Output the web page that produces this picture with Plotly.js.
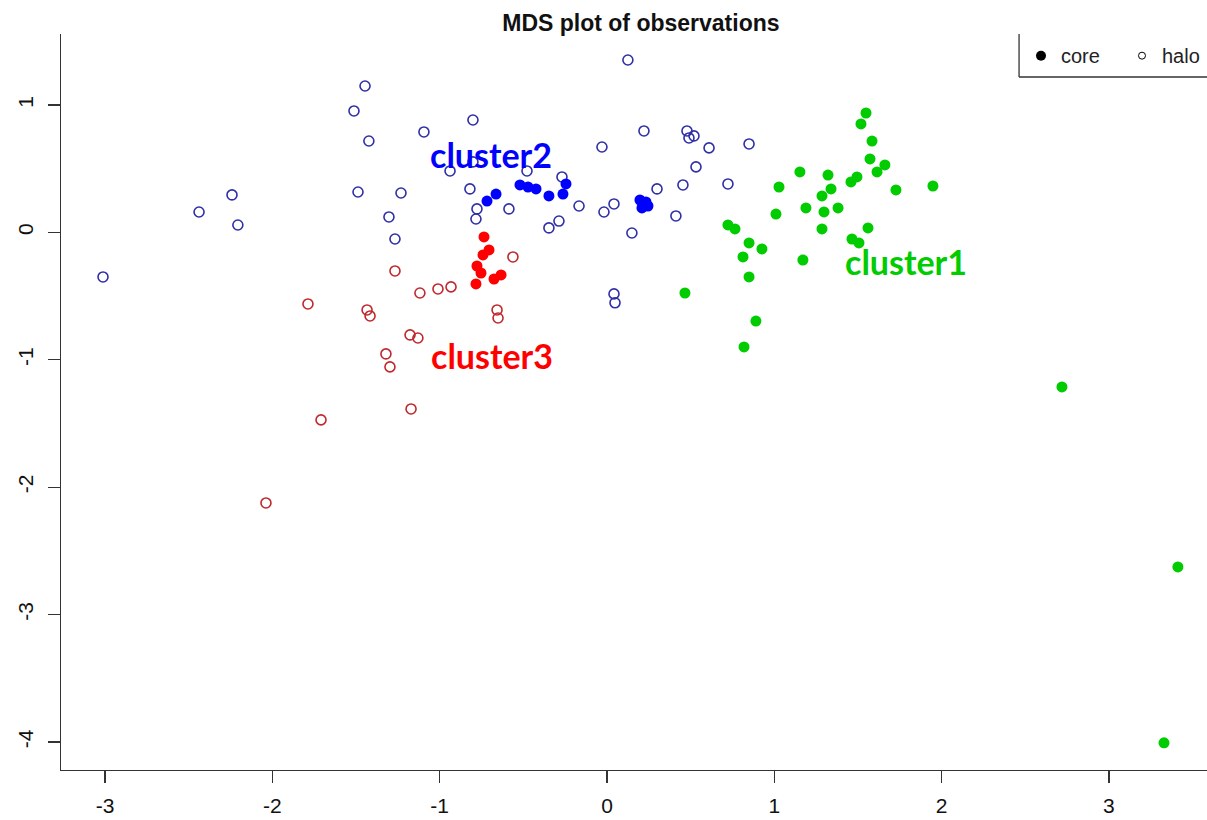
<!DOCTYPE html>
<html>
<head>
<meta charset="utf-8">
<script src="https://cdn.plot.ly/plotly-3.0.1.min.js"></script>
<style>
  html, body { margin: 0; padding: 0; background: #ffffff; }
  #chart { width: 1207px; height: 820px; }
</style>
</head>
<body>
<div id="chart"></div>
<script>
// MDS coordinates (dimension 1, dimension 2), split by cluster and by core / halo membership.
const cluster1CoreX = [1.548, 1.518, 1.584, 1.572, 1.661, 1.614, 1.153, 1.321, 1.494, 1.458, 1.028, 1.727, 1.948, 1.339, 1.285, 1.010, 1.189, 1.297, 1.381, 1.285, 1.560, 0.723, 0.765, 1.464, 1.506, 0.849, 0.926, 0.813, 1.171, 0.849, 0.466, 0.890, 0.819, 2.719, 3.412, 3.329];
const cluster1CoreY = [0.937, 0.851, 0.717, 0.576, 0.529, 0.474, 0.474, 0.450, 0.435, 0.396, 0.356, 0.333, 0.364, 0.341, 0.286, 0.144, 0.192, 0.160, 0.192, 0.027, 0.035, 0.058, 0.027, -0.052, -0.083, -0.083, -0.130, -0.193, -0.217, -0.350, -0.476, -0.696, -0.899, -1.213, -2.626, -4.007];

const cluster2CoreX = [-0.717, -0.663, -0.520, -0.472, -0.424, -0.347, -0.263, -0.245, 0.197, 0.233, 0.245, 0.209];
const cluster2CoreY = [0.246, 0.301, 0.372, 0.356, 0.341, 0.286, 0.301, 0.380, 0.254, 0.239, 0.207, 0.192];

const cluster2HaloX = [-3.012, -2.438, -2.241, -2.206, -1.446, -1.512, -1.423, -1.488, -1.231, -1.303, -1.267, -1.094, -0.801, -0.938, -0.801, -0.819, -0.777, -0.783, -0.586, -0.478, -0.269, -0.347, -0.287, -0.167, -0.030, -0.018, 0.042, 0.042, 0.048, 0.125, 0.149, 0.221, 0.299, 0.412, 0.454, 0.478, 0.520, 0.490, 0.610, 0.532, 0.723, 0.849];
const cluster2HaloY = [-0.350, 0.160, 0.294, 0.058, 1.149, 0.953, 0.717, 0.317, 0.309, 0.121, -0.052, 0.788, 0.882, 0.482, 0.553, 0.341, 0.184, 0.105, 0.184, 0.482, 0.435, 0.035, 0.089, 0.207, 0.670, 0.160, 0.223, -0.483, -0.553, 1.353, -0.005, 0.796, 0.341, 0.129, 0.372, 0.796, 0.757, 0.741, 0.663, 0.514, 0.380, 0.694];

const cluster3CoreX = [-0.735, -0.705, -0.741, -0.777, -0.753, -0.783, -0.675, -0.633];
const cluster3CoreY = [-0.036, -0.138, -0.177, -0.264, -0.319, -0.405, -0.366, -0.334];

const cluster3HaloX = [-0.562, -1.267, -1.118, -1.010, -0.932, -1.787, -1.434, -1.416, -0.657, -0.651, -1.177, -1.130, -1.321, -1.297, -1.171, -1.709, -2.038];
const cluster3HaloY = [-0.193, -0.303, -0.476, -0.444, -0.428, -0.562, -0.609, -0.656, -0.609, -0.672, -0.805, -0.829, -0.954, -1.056, -1.386, -1.472, -2.124];

// Cluster captions and where they sit in data space
const clusterNames = ['cluster1', 'cluster2', 'cluster3'];
const clusterLabelX = [1.787, -0.693, -0.690];
const clusterLabelY = [-0.228, 0.611, -0.966];

// Axis ticks (plain hyphen minus signs)
const xTickVals = [-3, -2, -1, 0, 1, 2, 3];
const xTickText = ['-3', '-2', '-1', '0', '1', '2', '3'];
const yTickVals = [-4, -3, -2, -1, 0, 1];
const yTickText = ['-4', '-3', '-2', '-1', '0', '1'];

const legendNames = ['core', 'halo'];

const GREEN = '#00CC00', BLUE = '#0000FF', RED = '#FF0000';
const BLUE_HALO = '#2F2FA8', RED_HALO = '#C0282C';

function halo(x, y, color) {
  return {
    type: 'scatter', mode: 'markers', x: x, y: y, showlegend: false, hoverinfo: 'skip',
    marker: { symbol: 'circle-open', size: 10, color: color, line: { width: 1.6, color: color } }
  };
}
function core(x, y, color) {
  return {
    type: 'scatter', mode: 'markers', x: x, y: y, showlegend: false, hoverinfo: 'skip',
    marker: { symbol: 'circle', size: 11, color: color, line: { width: 0 } }
  };
}

const traces = [
  halo(cluster2HaloX, cluster2HaloY, BLUE_HALO),
  halo(cluster3HaloX, cluster3HaloY, RED_HALO),
  core(cluster2CoreX, cluster2CoreY, BLUE),
  core(cluster3CoreX, cluster3CoreY, RED),
  core(cluster1CoreX, cluster1CoreY, GREEN),
  // legend keys
  { type: 'scatter', mode: 'markers', x: [null], y: [null], name: legendNames[0], showlegend: true,
    marker: { symbol: 'circle', size: 10, color: '#000000' } },
  { type: 'scatter', mode: 'markers', x: [null], y: [null], name: legendNames[1], showlegend: true,
    marker: { symbol: 'circle-open', size: 7, color: '#000000', line: { width: 1, color: '#000000' } } }
];

const annotations = clusterNames.map((name, i) => ({
  x: clusterLabelX[i], y: clusterLabelY[i], xref: 'x', yref: 'y',
  text: '<b>' + name + '</b>', showarrow: false, xanchor: 'center', yanchor: 'middle',
  font: { family: 'Lato, "Open Sans", sans-serif', size: 34, color: [GREEN, BLUE, RED][i] }
}));

const axisCommon = {
  showgrid: false, zeroline: false, showline: true, linecolor: '#333333', linewidth: 1.3,
  ticks: 'outside', ticklen: 12, tickwidth: 1.3, tickcolor: '#333333',
  tickfont: { family: '"Liberation Sans", Arial, sans-serif', size: 21, color: '#111111' },
  tickmode: 'array', fixedrange: true
};

const layout = {
  width: 1207, height: 820,
  margin: { l: 61, r: 0, t: 34, b: 50, pad: 0, autoexpand: false },
  paper_bgcolor: '#ffffff', plot_bgcolor: '#ffffff',
  title: {
    text: '<b>MDS plot of observations</b>',
    font: { family: '"Liberation Sans", Arial, sans-serif', size: 23, color: '#111111' },
    x: 0.531, xref: 'container', xanchor: 'center', y: 0.972, yref: 'container', yanchor: 'middle'
  },
  xaxis: Object.assign({}, axisCommon, {
    range: [-3.263, 3.586], tickvals: xTickVals, ticktext: xTickText, ticklabelstandoff: 4
  }),
  yaxis: Object.assign({}, axisCommon, {
    range: [-4.220, 1.557], tickvals: yTickVals, ticktext: yTickText, tickangle: -90, ticklabelstandoff: 6
  }),
  showlegend: true,
  legend: {
    orientation: 'h', xref: 'container', yref: 'container',
    x: 0.8459, xanchor: 'left', y: 0.9559, yanchor: 'top',
    entrywidth: 56, entrywidthmode: 'pixels',
    bgcolor: 'rgba(0,0,0,0)', borderwidth: 0,
    font: { family: '"Liberation Sans", Arial, sans-serif', size: 20, color: '#222222' }
  },
  // open legend frame: left and bottom edges only
  shapes: [
    { type: 'line', xref: 'paper', yref: 'paper', x0: 0.836, x1: 0.836, y0: 1, y1: 0.9416,
      line: { color: '#333333', width: 1.3 } },
    { type: 'line', xref: 'paper', yref: 'paper', x0: 0.836, x1: 1, y0: 0.9416, y1: 0.9416,
      line: { color: '#333333', width: 1.3 } }
  ],
  annotations: annotations,
  hovermode: false
};

Plotly.newPlot('chart', traces, layout, { staticPlot: true, displayModeBar: false });
</script>
</body>
</html>
